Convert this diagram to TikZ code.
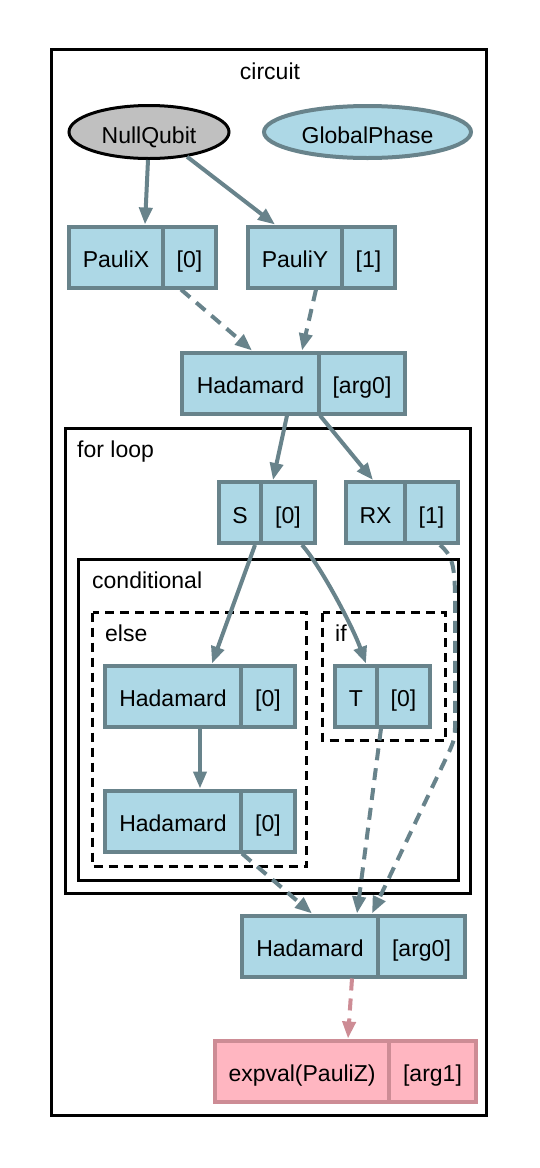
\documentclass[tikz,border=0pt]{standalone}
\usepackage{fontspec}
\setmainfont{Liberation Sans}
\usetikzlibrary{arrows.meta,shapes.geometric}
\definecolor{lb}{HTML}{ADD8E6}
\definecolor{lbd}{HTML}{68838B}
\definecolor{pk}{HTML}{FFB6C1}
\definecolor{pkd}{HTML}{CD8C95}
\definecolor{gr}{HTML}{C0C0C0}
\begin{document}
\begin{tikzpicture}[x=1pt,y=-1pt,
 lbl/.style={font=\fontsize{23}{27}\selectfont, inner sep=0pt},
 cell/.style={draw=lbd, fill=lb, line width=4pt, inner sep=0pt, minimum height=61pt, text height=21pt, text depth=0pt, font=\fontsize{23}{27}\selectfont},
 pcell/.style={cell, draw=pkd, fill=pk},
 oval/.style={ellipse, inner sep=0pt, minimum height=53pt, text height=23pt, text depth=0pt, font=\fontsize{23}{27}\selectfont},
 clus/.style={draw=black, line width=2.5pt},
 dclus/.style={clus, dash pattern=on 9pt off 6pt},
 edge/.style={draw=lbd, line width=4pt, -{Triangle[length=17pt,width=13pt]}},
 dedge/.style={edge, dash pattern=on 12pt off 8pt},
]
\useasboundingbox (0,0) rectangle (539,1168);
% clusters
\draw[clus] (51.5,49.5) rectangle (486.5,1115.5);
\draw[clus] (65.5,428.5) rectangle (470.5,893.5);
\draw[clus] (78.5,559.5) rectangle (458.5,880.5);
\draw[dclus] (92.5,612.5) rectangle (306.5,866.5);
\draw[dclus] (322.5,612.5) rectangle (445.5,740.5);
\node[lbl, anchor=base] (tcirc) at (270,79.3) {circuit};
\node[lbl, anchor=base west] (tfor) at (77,457.7) {for loop};
\node[lbl, anchor=base west] (tcond) at (92,588) {conditional};
\node[lbl, anchor=base west] (telse) at (105,641) {else};
\node[lbl, anchor=base west] (tif) at (335,641) {if};
% ellipses
\node[oval, draw=black, fill=gr, line width=3pt, minimum width=160pt] (nq) at (149,132) {NullQubit};
\node[oval, draw=lbd, fill=lb, line width=4pt, minimum width=207pt, minimum height=52pt] (gp) at (367.5,132) {GlobalPhase};
% records
\node[cell, minimum width=94pt] (pxl) at (116,257) {PauliX};
\node[cell, minimum width=53pt] (pxr) at (189.5,257) {[0]};
\node[cell, minimum width=94pt] (pyl) at (295,257) {PauliY};
\node[cell, minimum width=53pt] (pyr) at (368.5,257) {[1]};
\node[cell, minimum width=137pt] (h1l) at (250.5,383) {Hadamard};
\node[cell, minimum width=86pt] (h1r) at (362,383) {[arg0]};
\node[cell, minimum width=42pt] (sl) at (240,512.5) {S};
\node[cell, minimum width=54pt] (sr) at (288,512.5) {[0]};
\node[cell, minimum width=59pt] (rxl) at (375.5,512.5) {RX};
\node[cell, minimum width=53pt] (rxr) at (431.5,512.5) {[1]};
\node[cell, minimum width=136pt] (h2l) at (173,696) {Hadamard};
\node[cell, minimum width=54pt] (h2r) at (268,696) {[0]};
\node[cell, minimum width=136pt] (h3l) at (173,821) {Hadamard};
\node[cell, minimum width=54pt] (h3r) at (268,821) {[0]};
\node[cell, minimum width=42pt] (tl) at (356,696) {T};
\node[cell, minimum width=53pt] (tr) at (403.5,696) {[0]};
\node[cell, minimum width=136pt] (h4l) at (310,946) {Hadamard};
\node[cell, minimum width=87pt] (h4r) at (421.5,946) {[arg0]};
\node[pcell, minimum width=174pt] (el) at (302,1071) {expval(PauliZ)};
\node[pcell, minimum width=87pt] (er) at (432.5,1071) {[arg1]};
% edges
\draw[edge] ([xshift=-1pt]nq.south) -- ([xshift=29pt]pxl.north);
\draw[edge] (nq.-33) -- ([xshift=-20pt]pyl.north);
\draw[dedge] ([xshift=-8.5pt]pxr.south) -- ([xshift=1.5pt]h1l.north);
\draw[dedge] ([xshift=21pt]pyl.south) -- ([xshift=51.5pt]h1l.north);
\draw[edge] ([xshift=36.5pt]h1l.south) -- ([xshift=-15pt]sr.north);
\draw[edge] ([xshift=-42pt]h1r.south) -- ([xshift=-2.5pt]rxl.north);
\draw[edge] ([xshift=15pt]sl.south) -- ([xshift=39pt]h2l.north);
\draw[edge] ([xshift=14pt]sr.south) .. controls (320,565) and (352,625) .. ([xshift=10pt]tl.north);
\draw[edge] ([xshift=27pt]h2l.south) -- ([xshift=27pt]h3l.north);
\draw[dedge] ([xshift=8.5pt]rxr.south) .. controls (452,555) and (455,565) .. (455,600) -- (455,728) .. controls (455,740) and (452,745) .. (449,752) -- ([xshift=62pt]h4l.north);
\draw[dedge] ([xshift=-22.5pt]tr.south) -- ([xshift=47pt]h4l.north);
\draw[dedge] ([xshift=-26pt]h3r.south) -- ([xshift=2pt]h4l.north);
\draw[dedge, draw=pkd] ([xshift=42pt]h4l.south) -- ([xshift=46pt]el.north);
\end{tikzpicture}
\end{document}
